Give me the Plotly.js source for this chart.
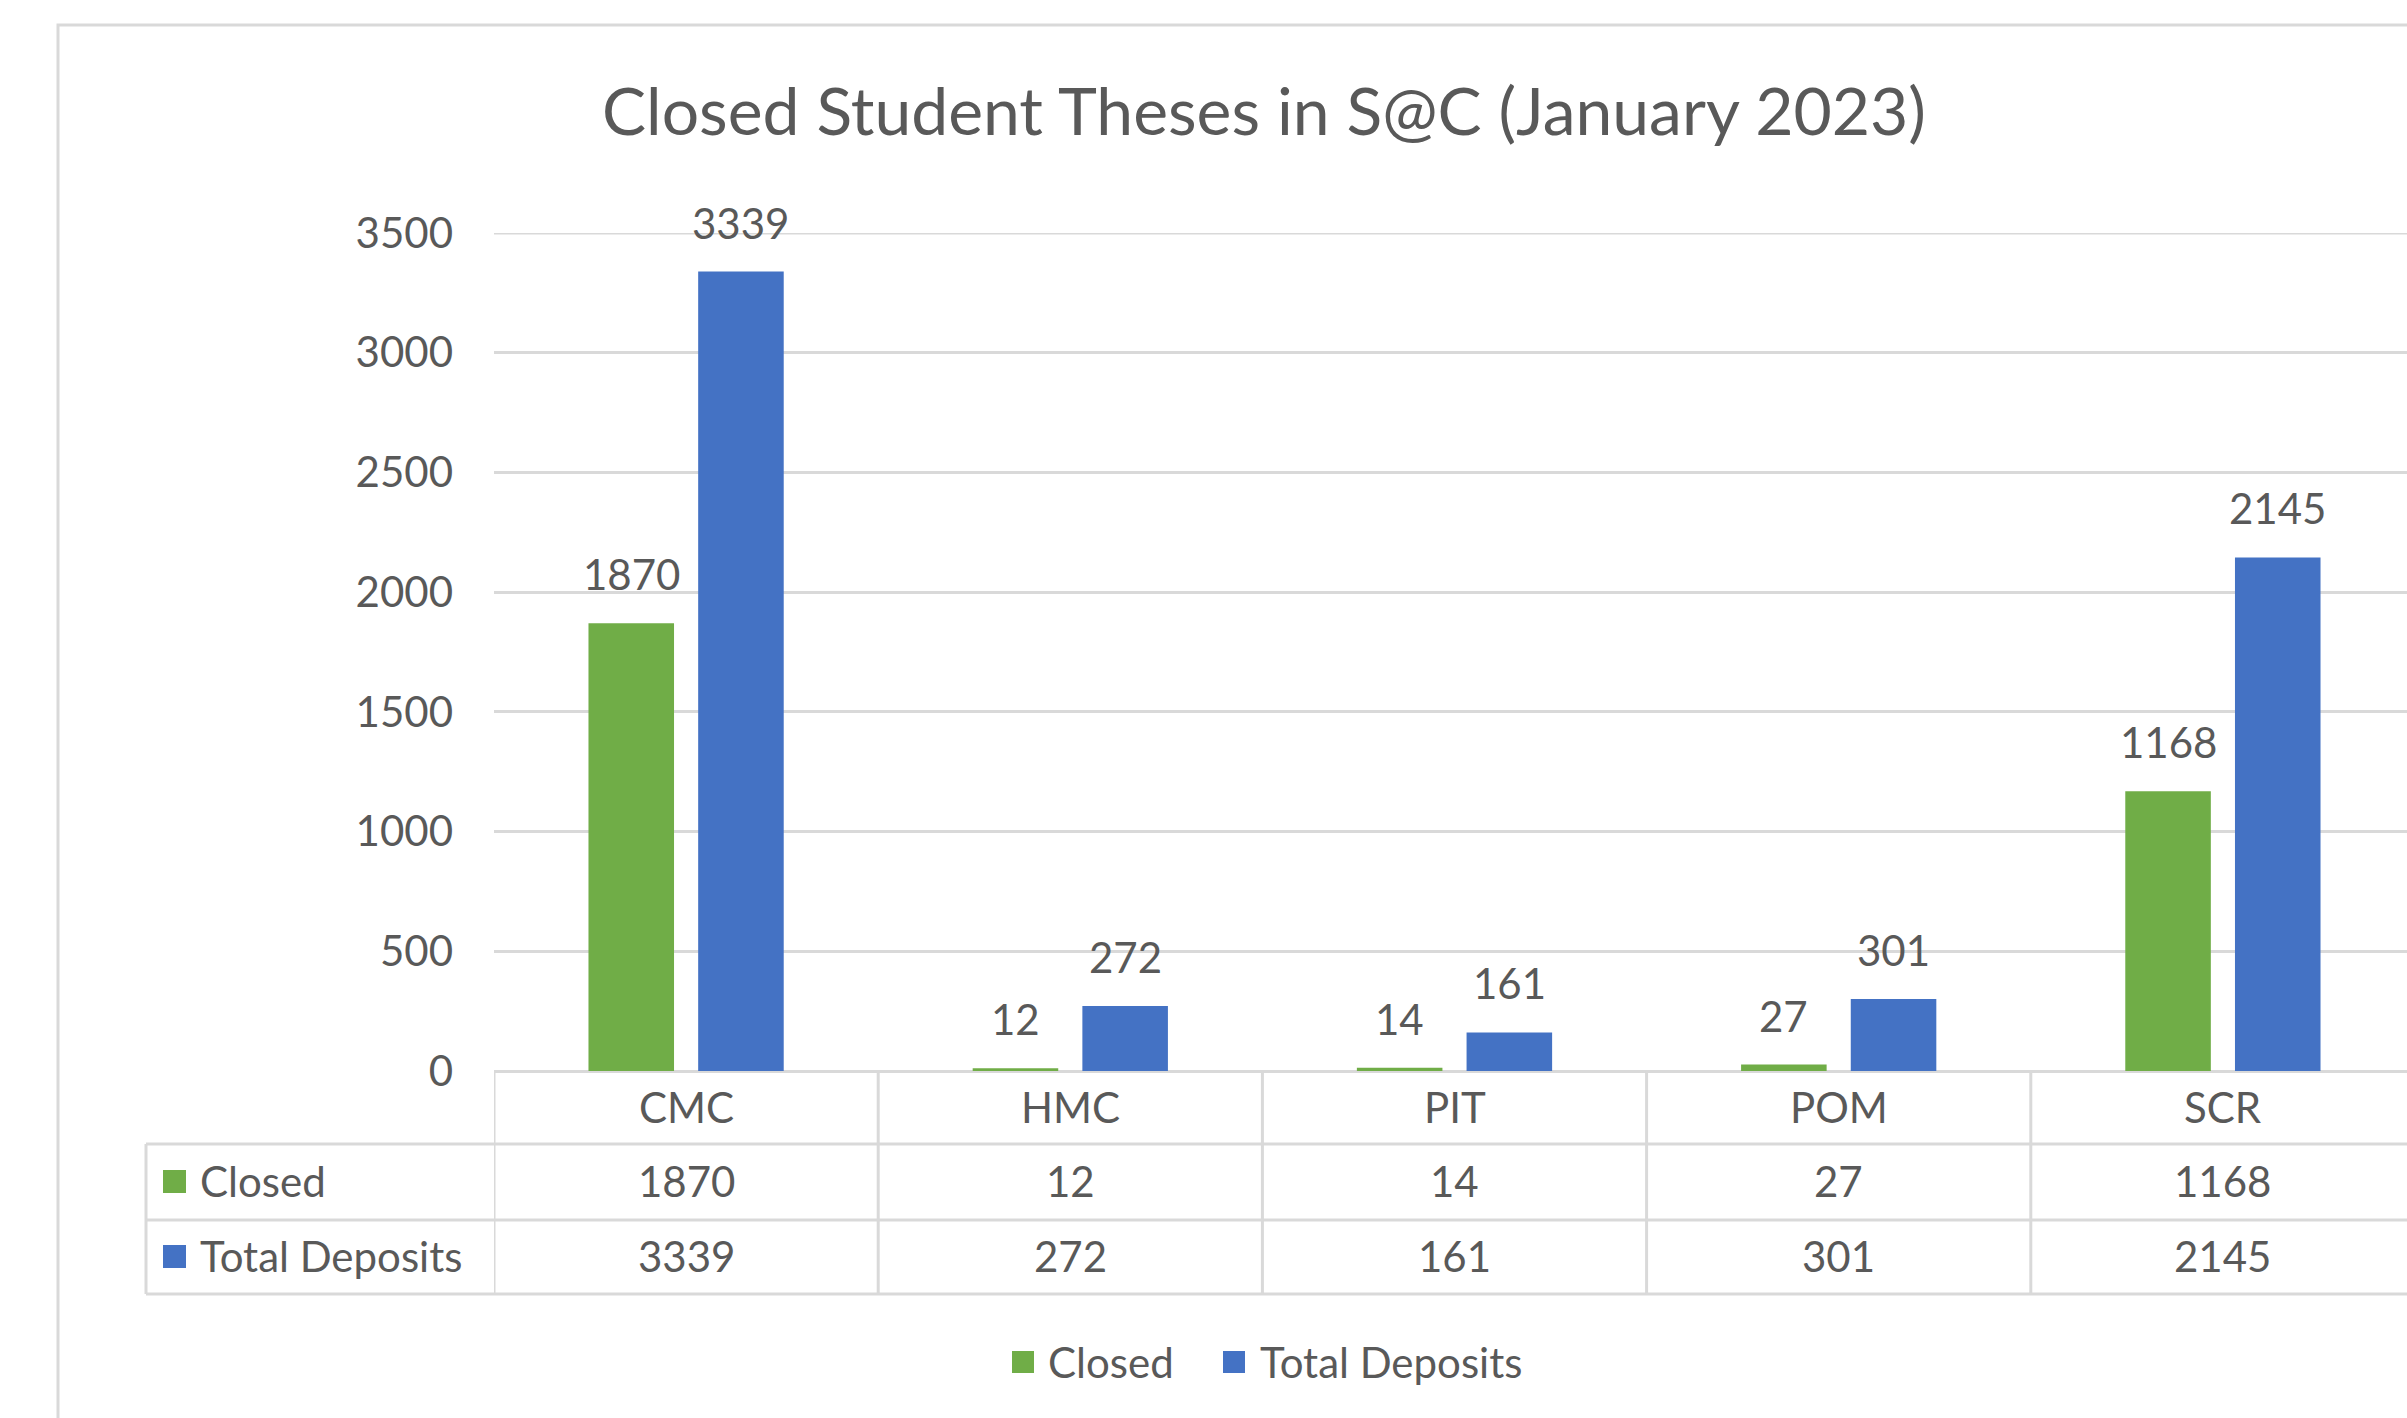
<!DOCTYPE html>
<html>
<head>
<meta charset="utf-8">
<script src="https://cdn.plot.ly/plotly-3.0.1.min.js"></script>
<style>
  html, body { margin: 0; padding: 0; background: #ffffff; }
  #chart { width: 2407px; height: 1418px; }
</style>
</head>
<body>
<div id="chart"></div>
<script>
// ---- data ----
const categories = ['CMC', 'HMC', 'PIT', 'POM', 'SCR'];
const closed = [1870, 12, 14, 27, 1168];
const totalDeposits = [3339, 272, 161, 301, 2145];
const seriesNames = ['Closed', 'Total Deposits'];
const chartTitle = 'Closed Student Theses in S@C (January 2023)';

// ---- style ----
const W = 2407, H = 1418;
const FONT = 'Lato, "Open Sans", sans-serif';
const TXT = '#595959';
const GRID = '#d9d9d9';
const colors = ['#70AD47', '#4472C4'];
const plotL = 494, plotTop = 233, plotBottom = 1071;
const catW = 384.2;
const fs = 42;
const yMax = 3500;

const plotW = W - plotL;
const plotH = plotBottom - plotTop;
const py = p => (plotBottom - p) / plotH;       // pixel y -> paper y
const pxp = p => (p - plotL) / plotW;           // pixel x -> paper x

const series = [closed, totalDeposits];
const traces = series.map((vals, k) => ({
  type: 'bar',
  name: seriesNames[k],
  x: categories,
  y: vals,
  marker: { color: colors[k] },
  hoverinfo: 'skip',
  showlegend: false
}));

const annotations = [];
const shapes = [];
const slot = 0.2854;
// data labels above bars
series.forEach((vals, k) => {
  vals.forEach((v, i) => {
    annotations.push({
      xref: 'x', yref: 'y', x: i + (k === 0 ? -slot / 2 : slot / 2), y: v,
      text: String(v), showarrow: false, yanchor: 'middle', yshift: 49,
      font: { family: FONT, size: fs, color: TXT }
    });
  });
});

// top gridline (at the range edge)
shapes.push({ type: 'line', xref: 'paper', yref: 'y', x0: 0, x1: 1, y0: yMax, y1: yMax,
  line: { color: GRID, width: 3 }, layer: 'below' });

// data table
const rowHeaderY = 1107, rowY = [1181, 1256];
const lines = [1144, 1220, 1294];
categories.forEach((c, i) => {
  annotations.push({
    xref: 'x', yref: 'paper', x: i, y: py(rowHeaderY), text: c, showarrow: false,
    yanchor: 'middle', font: { family: FONT, size: fs, color: TXT }
  });
  series.forEach((vals, k) => {
    annotations.push({
      xref: 'x', yref: 'paper', x: i, y: py(rowY[k]), text: String(vals[i]), showarrow: false,
      yanchor: 'middle', font: { family: FONT, size: fs, color: TXT }
    });
  });
});
seriesNames.forEach((n, k) => {
  annotations.push({
    xref: 'paper', yref: 'paper', x: pxp(198), y: py(rowY[k]), text: n, showarrow: false,
    xanchor: 'left', yanchor: 'middle', font: { family: FONT, size: fs, color: TXT }
  });
  shapes.push({
    type: 'rect', xref: 'paper', yref: 'paper',
    x0: pxp(163), x1: pxp(186), y0: py(rowY[k] - 11), y1: py(rowY[k] + 12),
    fillcolor: colors[k], line: { width: 0 }
  });
});
lines.forEach(yy => {
  shapes.push({ type: 'line', xref: 'paper', yref: 'paper', x0: pxp(146), x1: pxp(2430),
    y0: py(yy), y1: py(yy), line: { color: GRID, width: 3 } });
});
for (let i = 0; i <= categories.length; i++) {
  shapes.push({ type: 'line', xref: 'x', yref: 'paper', x0: i - 0.5, x1: i - 0.5,
    y0: py(plotBottom), y1: py(1294), line: { color: GRID, width: 3 } });
}
shapes.push({ type: 'line', xref: 'paper', yref: 'paper', x0: pxp(146), x1: pxp(146),
  y0: py(1144), y1: py(1294), line: { color: GRID, width: 3 } });

// bottom legend (squares + labels)
const legendY = 1362;
const legendSq = [1012, 1223];
const legendTx = [1046, 1258];
seriesNames.forEach((n, k) => {
  shapes.push({
    type: 'rect', xref: 'paper', yref: 'paper',
    x0: pxp(legendSq[k]), x1: pxp(legendSq[k] + 22), y0: py(legendY - 11), y1: py(legendY + 11),
    fillcolor: colors[k], line: { width: 0 }
  });
  annotations.push({
    xref: 'paper', yref: 'paper', x: pxp(legendTx[k]), y: py(legendY), text: n, showarrow: false,
    xanchor: 'left', yanchor: 'middle', font: { family: FONT, size: fs, color: TXT }
  });
});

// chart border
shapes.push({ type: 'rect', xref: 'paper', yref: 'paper', x0: pxp(58), x1: pxp(2440),
  y0: py(1450), y1: py(25), line: { color: GRID, width: 3 }, fillcolor: 'rgba(0,0,0,0)', layer: 'below' });

const layout = {
  width: W, height: H,
  paper_bgcolor: '#ffffff', plot_bgcolor: '#ffffff',
  margin: { l: plotL, r: 0, t: plotTop, b: H - plotBottom, pad: 0 },
  font: { family: FONT, color: TXT, size: fs },
  title: {
    text: chartTitle, xref: 'container', yref: 'container',
    x: 1264 / W, y: 1 - 112 / H, xanchor: 'center', yanchor: 'middle',
    font: { family: FONT, size: 66, color: TXT }
  },
  barmode: 'group', bargap: 0.429, bargroupgap: 0.22,
  xaxis: {
    type: 'category', range: [-0.5, -0.5 + plotW / catW],
    showticklabels: false, showgrid: false, zeroline: false, showline: false, ticks: ''
  },
  yaxis: {
    range: [0, yMax], dtick: 500, tick0: 0,
    showgrid: true, gridcolor: GRID, gridwidth: 3,
    zeroline: true, zerolinecolor: GRID, zerolinewidth: 3,
    showline: false, ticks: '', ticklabelstandoff: 40,
    tickfont: { family: FONT, size: fs, color: TXT }
  },
  showlegend: false,
  annotations: annotations,
  shapes: shapes
};

Plotly.newPlot('chart', traces, layout, { displayModeBar: false, staticPlot: true });
</script>
</body>
</html>
